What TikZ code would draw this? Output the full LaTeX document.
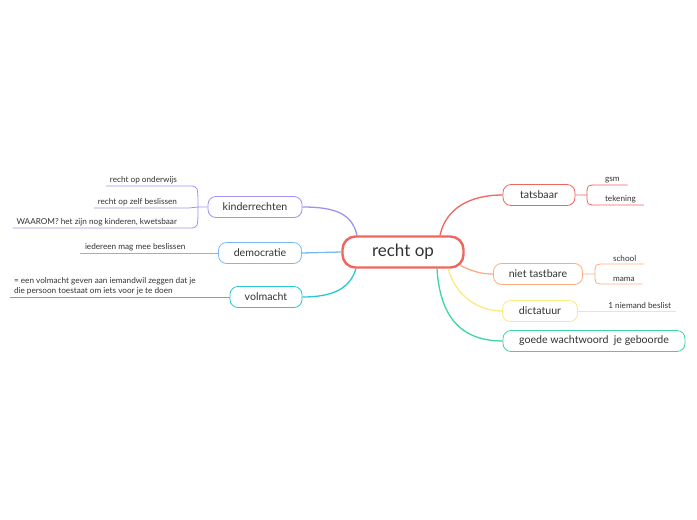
\documentclass[tikz,border=0pt]{standalone}
\usepackage{fontspec}
\setmainfont{Lato}
\usepackage{xcolor}
\definecolor{rood}{RGB}{242,100,94}
\definecolor{paars}{RGB}{158,146,245}
\definecolor{blauw}{RGB}{122,185,245}
\definecolor{cyaan}{RGB}{44,200,210}
\definecolor{oranje}{RGB}{253,172,128}
\definecolor{geel}{RGB}{250,234,130}
\definecolor{groen}{RGB}{64,212,160}
\definecolor{tekst}{RGB}{50,50,50}
\usetikzlibrary{positioning}

\begin{document}
\begin{tikzpicture}[
  x=1pt, y=-1pt,
  root/.style  = {rectangle, rounded corners=13pt, draw=rood, line width=2.4pt,
                  fill=white, minimum width=121pt, minimum height=31pt,
                  text=tekst, font=\fontsize{17}{19}\selectfont},
  topic/.style = {rectangle, rounded corners=8pt, draw=#1, line width=0.8pt,
                  fill=white, minimum height=21pt, inner xsep=0pt,
                  text=tekst, font=\fontsize{10.6}{12}\selectfont},
  leafr/.style = {anchor=south west, inner xsep=8pt, inner ysep=2pt, outer sep=0pt,
                  text=tekst, font=\fontsize{8.2}{10}\selectfont},
  leafl/.style = {leafr, anchor=south east, inner xsep=4pt},
  link/.style  = {line width=1.3pt, #1},
  uline/.style = {line width=0.8pt, #1},
]
\useasboundingbox (0,0) rectangle (697,520);

% centre
\node[root] (root) at (403,252) {recht op};

% right side
\node[topic=rood, minimum width=72pt]    (tats) at (539,195) {tatsbaar};
\node[topic=oranje, minimum width=89pt]  (niet) at (538,274) {niet tastbare};
\node[topic=geel, minimum width=75pt]    (dict) at (540,311) {dictatuur};
\node[topic=groen, minimum width=182pt]  (goed) at (594,341) {goede wachtwoord\ \ je geboorde};

% left side
\node[topic=paars, minimum width=94pt]   (kind) at (255,207) {kinderrechten};
\node[topic=blauw, minimum width=83pt]   (demo) at (260,253) {democratie};
\node[topic=cyaan, minimum width=72pt]   (volm) at (266,297) {volmacht};

% leaves
\node[leafr] (gsm)    at (597,185) {gsm};
\node[leafr] (tek)    at (597,205) {tekening};
\node[leafr] (school) at (605,264) {school};
\node[leafr] (mama)   at (605,284) {mama};
\node[leafl, inner xsep=5pt] (niem) at (676,311) {1 niemand beslist};
\node[leafl] (onder)  at (181,186) {recht op onderwijs};
\node[leafl] (zelf)   at (181,208) {recht op zelf beslissen};
\node[leafl] (waarom) at (181,228) {WAAROM? het zijn nog kinderen, kwetsbaar};
\node[leafr, inner xsep=5pt] (ieder) at (80,253) {iedereen mag mee beslissen};
\node[leafr, inner xsep=4pt, align=left] (volz) at (10,297)
  {= een volmacht geven aan iemandwil zeggen dat je\\die persoon toestaat om iets voor je te doen};
\coordinate (kj) at (198,207);

% main branches
\draw[link=rood]   ([xshift=37pt]root.north) .. controls (446,208) and (470,195) .. (tats.west);
\draw[link=oranje] ([xshift=-4pt,yshift=3pt]root.south east) .. controls (474,272) and (482,274) .. (niet.west);
\draw[link=geel]   ([xshift=45pt]root.south) .. controls (456,296) and (478,311) .. (dict.west);
\draw[link=groen]  ([xshift=34pt]root.south) .. controls (440,318) and (462,341) .. (goed.west);
\draw[link=paars]  ([xshift=-46pt]root.north) .. controls (352,214) and (336,207) .. (kind.east);
\draw[link=blauw]  (root.west) -- (demo.east);
\draw[link=cyaan]  ([xshift=-47pt]root.south) .. controls (350,288) and (334,297) .. (volm.east);

% sub branches
\draw[uline=rood] (tats.east) -- (587,195) .. controls (587,185) .. (gsm.south west) -- (gsm.south east);
\draw[uline=rood] (587,195) .. controls (587,205) .. (tek.south west) -- (tek.south east);
\draw[uline=oranje] (niet.east) -- (595,274) .. controls (595,264) .. (school.south west) -- (school.south east);
\draw[uline=oranje] (595,274) .. controls (595,284) .. (mama.south west) -- (mama.south east);
\draw[uline=geel] (dict.east) -- (niem.south east);
\draw[uline=paars] (kind.west) -- (kj) .. controls (198,186) .. (189,186) -- (onder.south west);
\draw[uline=paars] (kj) -- (189,208) -- (zelf.south west);
\draw[uline=paars] (kj) .. controls (198,228) .. (189,228) -- (waarom.south west);
\draw[uline=blauw] (demo.west) -- (ieder.south west);
\draw[uline=cyaan] (volm.west) -- (volz.south west);
\end{tikzpicture}
\end{document}
